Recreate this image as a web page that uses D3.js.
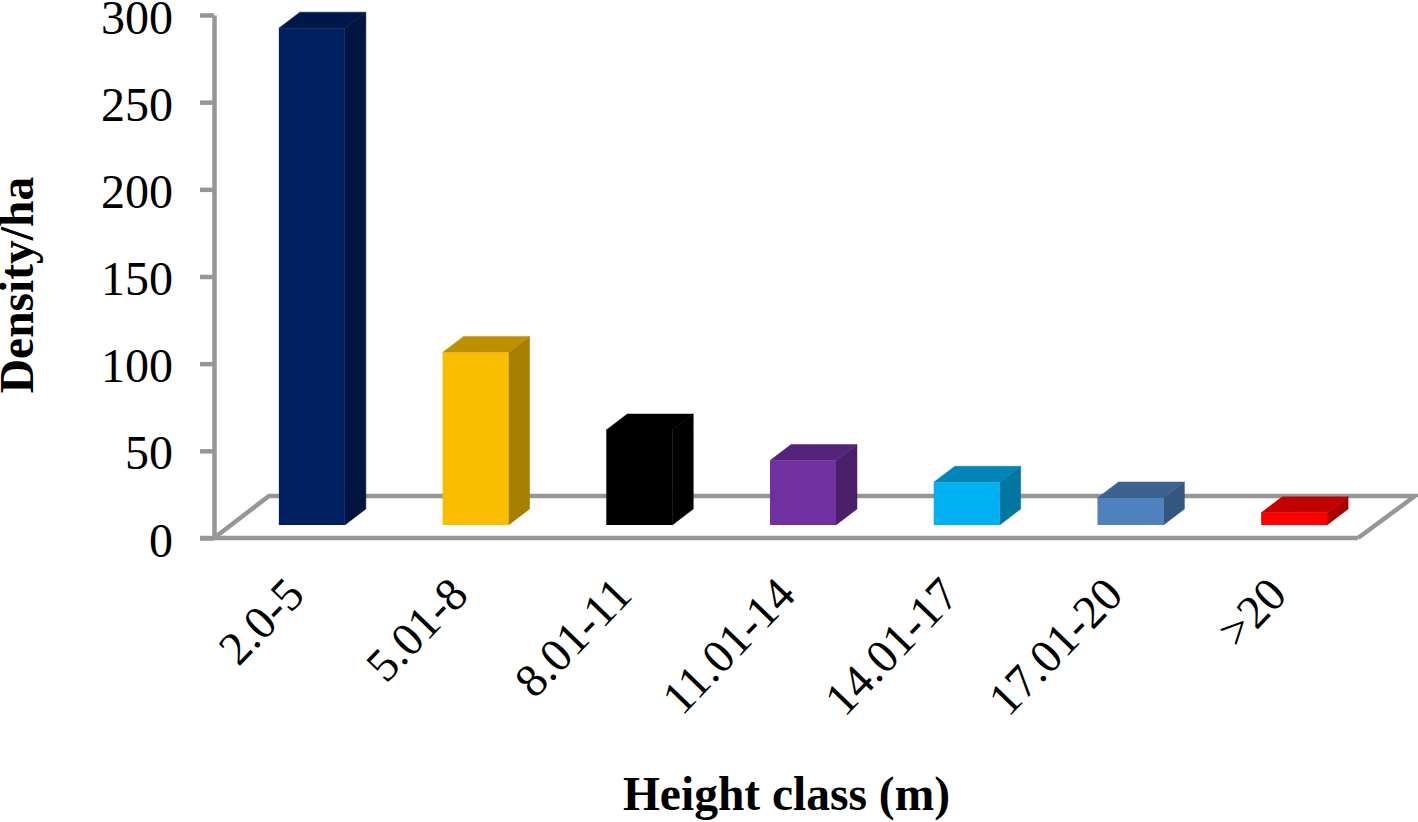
<!DOCTYPE html>
<html>
<head>
<meta charset="utf-8">
<script src="https://cdn.jsdelivr.net/npm/d3@7"></script>
<style>
  html, body { margin: 0; background: #fff; }
  svg { display: block; }
  text { font-family: "Liberation Serif", serif; fill: #000; }
  .axis path, .axis line { stroke: #969696; stroke-width: 4.5px; }
  .axis text { font-size: 48px; }
  .cat { font-size: 47px; }
  .title { font-size: 47.5px; font-weight: bold; }
</style>
</head>
<body>
<svg id="chart" width="1418" height="822"></svg>
<script>
const categories = ["2.0-5", "5.01-8", "8.01-11", "11.01-14", "14.01-17", "17.01-20", ">20"];
const density = [285, 99, 54.5, 37, 24.5, 15.5, 7];
const frontColors = ["#002060", "#f9bd00", "#000000", "#7030a0", "#00b0f0", "#4f81bd", "#ff0000"];
const yTicks = [0, 50, 100, 150, 200, 250, 300];

const width = 1418;
const height = 822;
const svg = d3.select("#chart");

// fake 3d offsets, same as the excel look
const depthX = 21;
const depthY = 16;
const lift = 13;

const shade = (c, k) => {
  const rgb = d3.rgb(c);
  return d3.rgb(rgb.r * k, rgb.g * k, rgb.b * k);
};

const xScale = d3.scaleBand().domain(categories).range([230, 1376]).paddingInner(0.597).paddingOuter(0.2985);
const yScale = d3.scaleLinear().domain([0, 300]).range([538, 15]);

// floor of the chart
const floorBack = 42;
const floorX = 55;
svg.append("path")
  .attr("d", `M214,${yScale(0)} L${214 + floorX},${yScale(0) - floorBack} H1415 L1358,${yScale(0)}`)
  .attr("fill", "none")
  .attr("stroke", "#969696")
  .attr("stroke-width", 4.5);

const yAxis = svg.append("g")
  .attr("class", "axis")
  .attr("transform", "translate(214,0)")
  .call(d3.axisLeft(yScale).tickValues(yTicks).tickSize(14).tickSizeOuter(0).tickPadding(27));

svg.append("line")
  .attr("x1", 200).attr("x2", 1358)
  .attr("y1", yScale(0)).attr("y2", yScale(0))
  .attr("stroke", "#969696")
  .attr("stroke-width", 4.5);

yAxis.selectAll("text").attr("dy", "0.375em");

const bars = svg.selectAll(".bar")
  .data(categories)
  .enter()
  .append("g")
  .attr("class", "bar");

const barTop = (i) => yScale(density[i]) - lift;
const barBottom = yScale(0) - lift;

// side
bars.append("path")
  .attr("d", (d, i) => {
    const r = xScale(d) + xScale.bandwidth();
    return `M${r},${barTop(i)} l${depthX},${-depthY} V${barBottom - depthY} L${r},${barBottom} Z`;
  })
  .attr("fill", (d, i) => shade(frontColors[i], 0.67))
  .attr("stroke", (d, i) => shade(frontColors[i], 0.67))
  .attr("stroke-width", 0.5);

// top
bars.append("path")
  .attr("d", (d, i) => {
    const l = xScale(d);
    const w = xScale.bandwidth();
    return `M${l},${barTop(i)} l${depthX},${-depthY} h${w} l${-depthX},${depthY} Z`;
  })
  .attr("fill", (d, i) => shade(frontColors[i], 0.76))
  .attr("stroke", (d, i) => shade(frontColors[i], 0.76))
  .attr("stroke-width", 0.5);

// front
bars.append("rect")
  .attr("x", (d) => xScale(d))
  .attr("y", (d, i) => barTop(i))
  .attr("width", xScale.bandwidth())
  .attr("height", (d, i) => barBottom - barTop(i))
  .attr("fill", (d, i) => frontColors[i]);

svg.selectAll(".cat")
  .data(categories)
  .enter()
  .append("text")
  .attr("class", "cat")
  .attr("text-anchor", "end")
  .attr("transform", (d) => `translate(${xScale(d) + 4},574) rotate(-46)`)
  .attr("dy", "0.7em")
  .text((d) => d);

svg.append("text")
  .attr("class", "title")
  .attr("text-anchor", "middle")
  .attr("x", 786.5)
  .attr("y", 810)
  .text("Height class (m)");

svg.append("text")
  .attr("class", "title")
  .attr("text-anchor", "middle")
  .attr("transform", "translate(33,285) rotate(-90)")
  .text("Density/ha");
</script>
</body>
</html>
